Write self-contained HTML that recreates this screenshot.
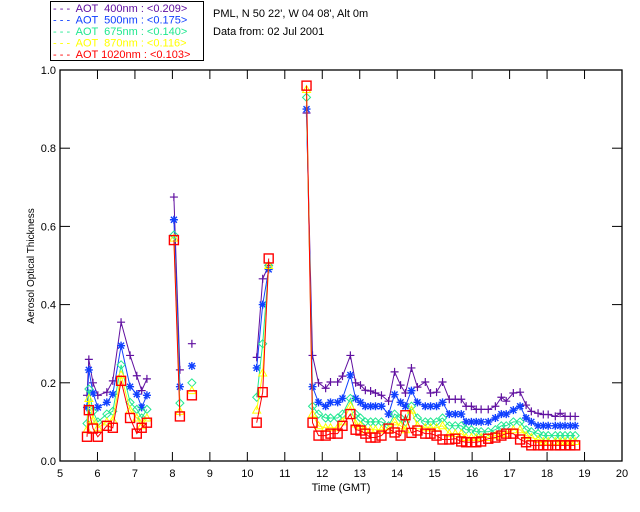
<!DOCTYPE html>
<html><head><meta charset="utf-8"><style>
body{margin:0;background:#fff;}
svg{display:block;font-family:"Liberation Sans",sans-serif;}
</style></head><body>
<svg id="chart" width="640" height="512" viewBox="0 0 640 512" xmlns="http://www.w3.org/2000/svg">
<rect x="0" y="0" width="640" height="512" fill="#fff"/>
<g>
<rect x="50.5" y="1.5" width="153" height="59" fill="#fff" stroke="#000"/>
<text x="53" y="12" font-size="11" fill="#6010a0" xml:space="preserve">- - -  AOT  400nm : &lt;0.209&gt;</text>
<text x="53" y="23.5" font-size="11" fill="#1040ff" xml:space="preserve">- - -  AOT  500nm : &lt;0.175&gt;</text>
<text x="53" y="35" font-size="11" fill="#20e890" xml:space="preserve">- - -  AOT  675nm : &lt;0.140&gt;</text>
<text x="53" y="46.5" font-size="11" fill="#ffff00" xml:space="preserve">- - -  AOT  870nm : &lt;0.116&gt;</text>
<text x="53" y="58" font-size="11" fill="#ff0000" xml:space="preserve">- - -  AOT 1020nm : &lt;0.103&gt;</text>
</g>
<text x="213" y="17" font-size="11" fill="#000">PML, N 50 22', W 04 08', Alt 0m</text>
<text x="213" y="35" font-size="11" fill="#000">Data from: 02 Jul 2001</text>
<g id="axes"></g>
<g id="series"></g>
<text x="341" y="491" font-size="11" text-anchor="middle">Time (GMT)</text>
<text x="0" y="0" font-size="10" text-anchor="middle" transform="translate(34,266) rotate(-90)">Aerosol Optical Thickness</text>
</svg>
<script>
// segment times (hours GMT); separate segments are not joined
const seg1Times=[5.72,5.77,5.88,6.01,6.25,6.41,6.63,6.87,7.05,7.18,7.32];
const seg2Times=[8.04,8.2];
const seg3Times=[8.52];
const seg4Times=[10.25,10.41,10.57];
const seg5Times=[11.58,11.74,11.90,12.09,12.22,12.41,12.54,12.75,12.89,13.02,13.15,13.29,13.42,13.58,13.77,13.93,14.09,14.22,14.38,14.54,14.75,14.89,15.05,15.21,15.39,15.55,15.71,15.84,15.98,16.11,16.24,16.43,16.62,16.78,16.91,17.10,17.28,17.44,17.58,17.76,17.90,18.03,18.22,18.35,18.48,18.62,18.75];

const aot400=[[0.168,0.26,0.20,0.168,0.176,0.205,0.355,0.27,0.218,0.18,0.21],[0.675,0.233],[0.30],[0.265,0.466,0.50],
[0.89,0.27,0.20,0.186,0.202,0.202,0.217,0.27,0.20,0.194,0.181,0.179,0.174,0.168,0.153,0.228,0.194,0.174,0.238,0.189,0.202,0.174,0.176,0.202,0.158,0.158,0.158,0.140,0.140,0.132,0.132,0.132,0.140,0.163,0.153,0.174,0.176,0.143,0.127,0.122,0.119,0.119,0.114,0.122,0.114,0.114,0.114]];
const aot500=[[0.137,0.233,0.174,0.137,0.15,0.171,0.295,0.19,0.171,0.137,0.168],[0.617,0.19],[0.243],[0.238,0.40,0.49],
[0.90,0.19,0.15,0.14,0.15,0.15,0.16,0.22,0.16,0.15,0.14,0.14,0.14,0.14,0.12,0.17,0.15,0.14,0.18,0.15,0.14,0.14,0.14,0.15,0.12,0.12,0.12,0.10,0.10,0.10,0.10,0.10,0.11,0.12,0.12,0.13,0.14,0.11,0.10,0.09,0.09,0.09,0.09,0.09,0.09,0.09,0.09]];
const aot675=[[0.096,0.184,0.127,0.10,0.12,0.127,0.246,0.15,0.132,0.11,0.132],[0.578,0.148],[0.20],[0.163,0.30,0.50],
[0.93,0.14,0.12,0.11,0.11,0.11,0.12,0.16,0.12,0.11,0.10,0.10,0.10,0.10,0.09,0.12,0.11,0.10,0.14,0.11,0.10,0.10,0.10,0.11,0.09,0.09,0.09,0.08,0.08,0.075,0.075,0.075,0.08,0.09,0.09,0.10,0.10,0.08,0.075,0.07,0.065,0.065,0.065,0.065,0.065,0.065,0.065]];
const aot870=[[0.08,0.16,0.105,0.085,0.10,0.105,0.22,0.13,0.11,0.09,0.11],[0.57,0.127],[0.18],[0.13,0.225,0.50],
[0.95,0.12,0.09,0.085,0.085,0.085,0.10,0.14,0.095,0.09,0.08,0.08,0.08,0.08,0.08,0.10,0.09,0.08,0.13,0.09,0.085,0.085,0.085,0.09,0.07,0.07,0.07,0.06,0.06,0.06,0.06,0.06,0.065,0.07,0.07,0.08,0.08,0.065,0.06,0.055,0.05,0.05,0.05,0.05,0.05,0.05,0.05]];
const aot1020=[[0.062,0.13,0.083,0.062,0.09,0.085,0.205,0.11,0.07,0.085,0.098],[0.565,0.114],[0.168],[0.098,0.176,0.518],
[0.96,0.098,0.065,0.065,0.07,0.07,0.09,0.12,0.08,0.078,0.07,0.06,0.06,0.065,0.083,0.073,0.065,0.117,0.072,0.078,0.07,0.07,0.065,0.055,0.055,0.057,0.05,0.048,0.048,0.048,0.05,0.057,0.06,0.065,0.07,0.07,0.055,0.048,0.04,0.04,0.04,0.04,0.04,0.04,0.04,0.04,0.04]];

const xTicks=[5,6,7,8,9,10,11,12,13,14,15,16,17,18,19,20];
const yTicks=[0,0.2,0.4,0.6,0.8,1.0];
const yLabels=["0.0","0.2","0.4","0.6","0.8","1.0"];

const X0=60,X1=622,Y0=461,Y1=70;
function xs(t){return X0+(t-5)/15*(X1-X0);}
function ys(v){return Y0-v*(Y0-Y1);}
const NS="http://www.w3.org/2000/svg";
function mk(tag,attrs,parent){const e=document.createElementNS(NS,tag);for(const k in attrs)e.setAttribute(k,attrs[k]);parent.appendChild(e);return e;}
const axes=document.getElementById('axes');
const frame=mk('rect',{x:X0,y:Y1,width:X1-X0,height:Y0-Y1,fill:'none',stroke:'#000','stroke-width':1.3},axes);


xTicks.forEach(t=>{
  const x=xs(t);
  const l1=mk('line',{x1:x,y1:Y0,x2:x,y2:Y0-9,stroke:'#000'},axes);
  
  
  const l2=mk('line',{x1:x,y1:Y1,x2:x,y2:Y1+9,stroke:'#000'},axes);
  
  
  const tx=mk('text',{x:x,y:Y0+16,'font-size':11,'text-anchor':'middle'},axes);
  tx.textContent=String(t);
  
  
});
yTicks.forEach((v,i)=>{
  const y=ys(v);
  const l1=mk('line',{x1:X0,y1:y,x2:X0+10,y2:y,stroke:'#000'},axes);
  
  
  const l2=mk('line',{x1:X1,y1:y,x2:X1-10,y2:y,stroke:'#000'},axes);
  
  
  const tx=mk('text',{x:X0-4,y:y+4,'font-size':11,'text-anchor':'end'},axes);
  tx.textContent=yLabels[i];
  
  
});

const segTimes=[seg1Times,seg2Times,seg3Times,seg4Times,seg5Times];
const seriesDefs=[
  {name:'aot-400nm',vals:aot400,color:'#6010a0',mark:'plus'},
  {name:'aot-500nm',vals:aot500,color:'#1040ff',mark:'star'},
  {name:'aot-675nm',vals:aot675,color:'#20e890',mark:'diamond'},
  {name:'aot-870nm',vals:aot870,color:'#ffff00',mark:'tri'},
  {name:'aot-1020nm',vals:aot1020,color:'#ff0000',mark:'square'}
];
const sg=document.getElementById('series');
function marker(kind,x,y,c,g){
  let e;
  if(kind==='plus'){e=mk('path',{d:`M${x-4},${y}H${x+4}M${x},${y-4}V${y+4}`,stroke:c,fill:'none','stroke-width':1.2},g);}
  else if(kind==='star'){e=mk('path',{d:`M${x-4},${y}H${x+4}M${x},${y-4}V${y+4}M${x-3},${y-3}L${x+3},${y+3}M${x-3},${y+3}L${x+3},${y-3}`,stroke:c,fill:'none','stroke-width':1.4},g);}
  else if(kind==='diamond'){e=mk('path',{d:`M${x},${y-4}L${x+4},${y}L${x},${y+4}L${x-4},${y}Z`,stroke:c,fill:'none','stroke-width':1},g);}
  else if(kind==='tri'){e=mk('path',{d:`M${x},${y-4}L${x+4},${y+3}L${x-4},${y+3}Z`,stroke:c,fill:'none','stroke-width':1},g);}
  else {e=mk('rect',{x:x-4.5,y:y-4.5,width:9,height:9,stroke:c,fill:'none','stroke-width':1.4},g);}
  
  
}
seriesDefs.forEach(s=>{
  const g=mk('g',{},sg);
  
  
  segTimes.forEach((ts,si)=>{
    const vs=s.vals[si];
    const pts=ts.map((t,i)=>xs(t).toFixed(1)+','+ys(vs[i]).toFixed(1)).join(' ');
    if(ts.length>1){
      const pl=mk('polyline',{points:pts,fill:'none',stroke:s.color,'stroke-width':1},g);
      
      
    }
    ts.forEach((t,i)=>marker(s.mark,xs(t),ys(vs[i]),s.color,g));
  });
});
</script>
</body></html>
